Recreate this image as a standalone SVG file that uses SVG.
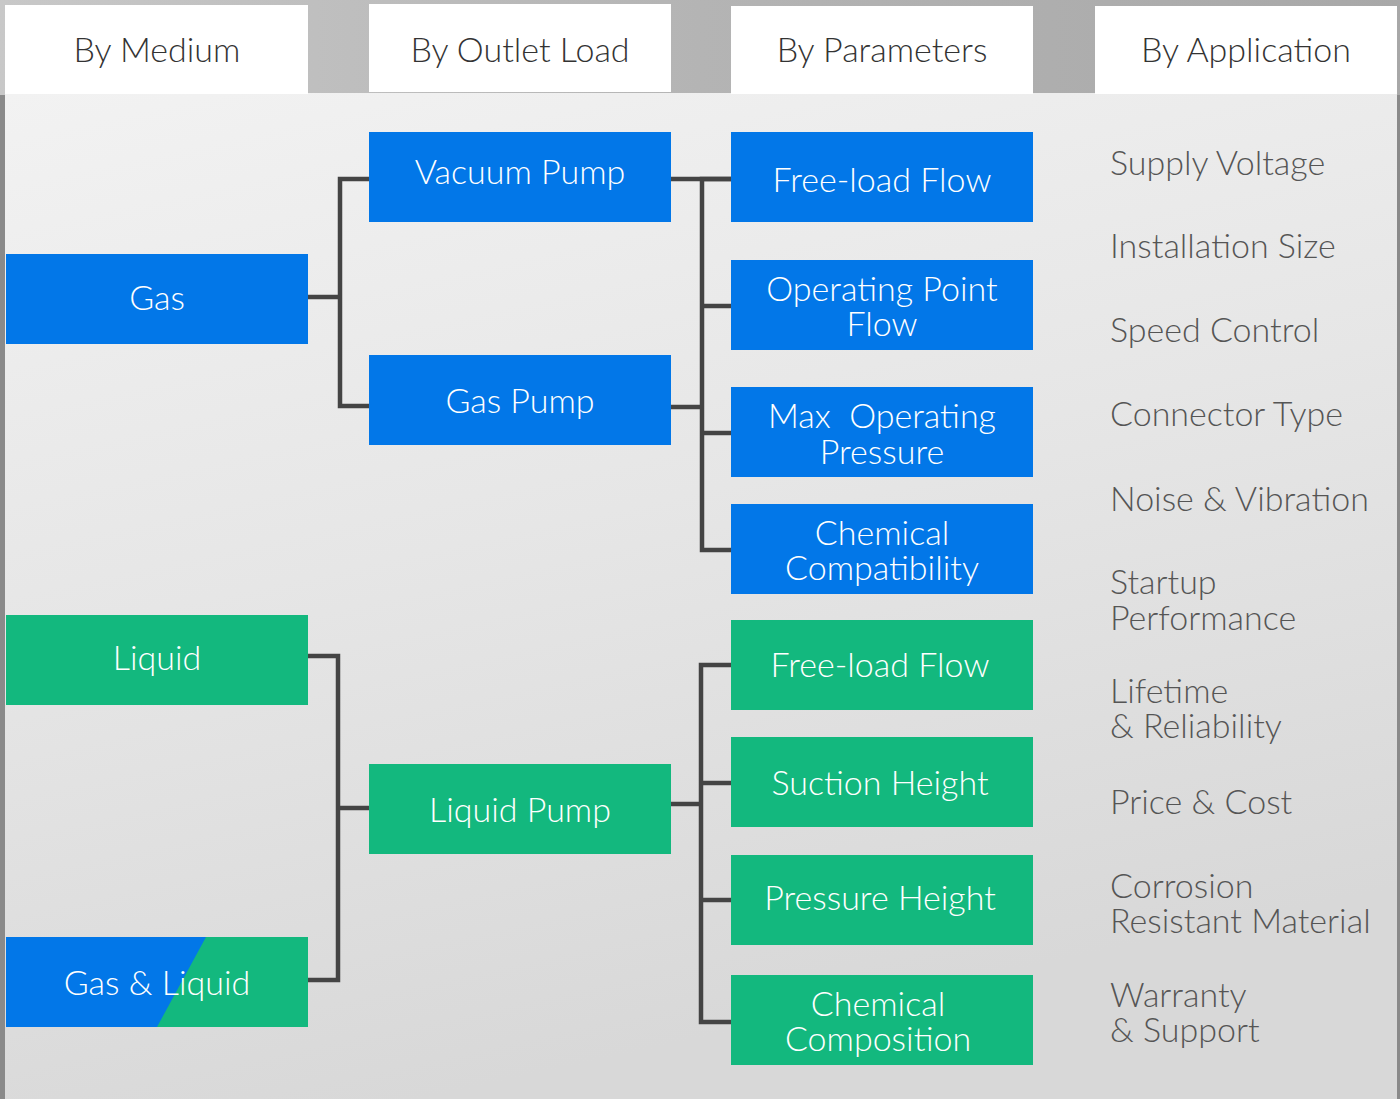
<svg xmlns="http://www.w3.org/2000/svg" width="1400" height="1099" viewBox="0 0 1400 1099">
<defs>
<linearGradient id="bg" x1="0" y1="0" x2="0.3" y2="1">
<stop offset="0" stop-color="#f2f2f2"/>
<stop offset="0.5" stop-color="#e6e6e6"/>
<stop offset="1" stop-color="#d8d8d8"/>
</linearGradient>
<linearGradient id="top" x1="0" y1="0" x2="1" y2="0">
<stop offset="0" stop-color="#c8c8c8"/>
<stop offset="0.5" stop-color="#b4b4b4"/>
<stop offset="1" stop-color="#a8a8a8"/>
</linearGradient>
<style>
.hdr{fill:#ffffff}
.hdrt{font-family:Lato,"Liberation Sans",sans-serif;font-weight:300;font-size:34px;fill:#333333;text-anchor:middle}
.blue{fill:#0277e8}
.green{fill:#13b87e}
.nt{font-family:Lato,"Liberation Sans",sans-serif;font-weight:300;font-size:34px;fill:#ffffff;text-anchor:middle}
.app{font-family:Lato,"Liberation Sans",sans-serif;font-weight:300;font-size:34px;fill:#555555}
.con{fill:none;stroke:#444444;stroke-width:4.5}
</style>
</defs>
<rect x="0" y="0" width="1400" height="1099" fill="#8a8a8a"/>
<rect x="0" y="0" width="1400" height="95" fill="url(#top)"/>
<rect x="5" y="93" width="1392" height="1006" fill="url(#bg)"/>

<g id="headers">
<g id="h-medium"><rect class="hdr" x="5" y="5" width="303" height="89"/><text class="hdrt" x="157" y="62">By Medium</text></g>
<g id="h-outlet"><rect class="hdr" x="369" y="4" width="302" height="88"/><text class="hdrt" x="520" y="62">By Outlet Load</text></g>
<g id="h-param"><rect class="hdr" x="731" y="6" width="302" height="88"/><text class="hdrt" x="882" y="62">By Parameters</text></g>
<g id="h-app"><rect class="hdr" x="1095" y="6" width="302" height="88"/><text class="hdrt" x="1246" y="62">By Application</text></g>
</g>

<g id="connectors">
<polyline class="con" points="308,297 340,297"/>
<polyline class="con" points="369,179 340,179 340,406 369,406"/>
<polyline class="con" points="671,179 731,179"/>
<polyline class="con" points="671,407 702,407"/>
<polyline class="con" points="731,179 702,179 702,550 731,550"/>
<polyline class="con" points="702,306 731,306"/>
<polyline class="con" points="702,433 731,433"/>
<polyline class="con" points="308,656 338,656 338,980 308,980"/>
<polyline class="con" points="338,808 369,808"/>
<polyline class="con" points="671,804 701,804"/>
<polyline class="con" points="731,665 701,665 701,1022 731,1022"/>
<polyline class="con" points="701,783 731,783"/>
<polyline class="con" points="701,900 731,900"/>
</g>

<g id="n-gas"><rect class="blue" x="6" y="254" width="302" height="90"/><text class="nt" x="157" y="310">Gas</text></g>
<g id="n-vacuum"><rect class="blue" x="369" y="132" width="302" height="90"/><text class="nt" x="520" y="184">Vacuum Pump</text></g>
<g id="n-gaspump"><rect class="blue" x="369" y="355" width="302" height="90"/><text class="nt" x="520" y="413">Gas Pump</text></g>
<g id="n-freeload1"><rect class="blue" x="731" y="132" width="302" height="90"/><text class="nt" x="882" y="192">Free-load Flow</text></g>
<g id="n-oppoint"><rect class="blue" x="731" y="260" width="302" height="90"/><text class="nt" x="882" y="301">Operating Point</text><text class="nt" x="882" y="336">Flow</text></g>
<g id="n-maxop"><rect class="blue" x="731" y="387" width="302" height="90"/><text class="nt" x="882" y="428" xml:space="preserve">Max  Operating</text><text class="nt" x="882" y="464">Pressure</text></g>
<g id="n-chemcompat"><rect class="blue" x="731" y="504" width="302" height="90"/><text class="nt" x="882" y="545">Chemical</text><text class="nt" x="882" y="580">Compatibility</text></g>

<g id="n-liquid"><rect class="green" x="6" y="615" width="302" height="90"/><text class="nt" x="157" y="670">Liquid</text></g>
<g id="n-gasliquid"><rect class="green" x="6" y="937" width="302" height="90"/><polygon class="blue" points="6,937 206,937 157,1027 6,1027"/><text class="nt" x="157" y="995">Gas &amp; Liquid</text></g>
<g id="n-liquidpump"><rect class="green" x="369" y="764" width="302" height="90"/><text class="nt" x="520" y="822">Liquid Pump</text></g>
<g id="n-freeload2"><rect class="green" x="731" y="620" width="302" height="90"/><text class="nt" x="880" y="677">Free-load Flow</text></g>
<g id="n-suction"><rect class="green" x="731" y="737" width="302" height="90"/><text class="nt" x="880" y="795">Suction Height</text></g>
<g id="n-pressure"><rect class="green" x="731" y="855" width="302" height="90"/><text class="nt" x="880" y="910">Pressure Height</text></g>
<g id="n-chemcomp"><rect class="green" x="731" y="975" width="302" height="90"/><text class="nt" x="878" y="1016">Chemical</text><text class="nt" x="878" y="1051">Composition</text></g>

<g id="applications">
<text class="app" x="1110" y="175">Supply Voltage</text>
<text class="app" x="1110" y="258">Installation Size</text>
<text class="app" x="1110" y="342">Speed Control</text>
<text class="app" x="1110" y="426">Connector Type</text>
<text class="app" x="1110" y="511">Noise &amp; Vibration</text>
<text class="app" x="1110" y="594">Startup</text>
<text class="app" x="1110" y="630">Performance</text>
<text class="app" x="1110" y="703">Lifetime</text>
<text class="app" x="1110" y="738">&amp; Reliability</text>
<text class="app" x="1110" y="814">Price &amp; Cost</text>
<text class="app" x="1110" y="898">Corrosion</text>
<text class="app" x="1110" y="933">Resistant Material</text>
<text class="app" x="1110" y="1007">Warranty</text>
<text class="app" x="1110" y="1042">&amp; Support</text>
</g>
</svg>
